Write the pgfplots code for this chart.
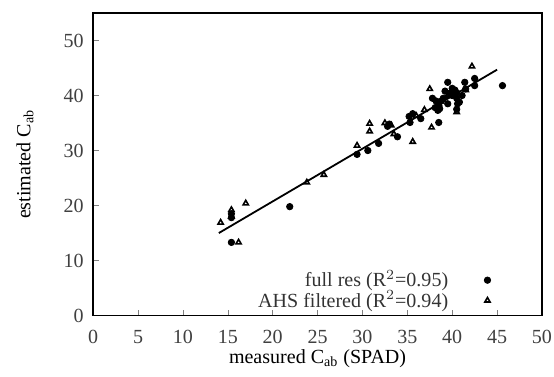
\documentclass[border=0pt]{standalone}
\usepackage{fontspec}
\setmainfont{Liberation Serif}
\usepackage{pgfplots}
\pgfplotsset{compat=1.18}
\begin{document}
\begin{tikzpicture}
\begin{axis}[
  scale only axis,
  width=224pt, height=151pt,
  xmin=0, xmax=50, ymin=0, ymax=55,
  xtick={0,5,...,50}, ytick={0,10,...,50},
  tick align=inside, xtick pos=bottom, ytick pos=left,
  major tick length=3pt,
  /pgf/number format/assume math mode=true,
  tick label style={font=\normalsize, text=black!75},
  xticklabel style={anchor=base, yshift=-14pt},
  yticklabel style={xshift=-1.2pt},
  xlabel={measured C\textsubscript{ab} (SPAD)},
  ylabel={estimated C\textsubscript{ab}},
  label style={text=black!75},
  every axis x label/.style={at={(rel axis cs:0.5,0)}, anchor=center, yshift=-21.5pt},
  every axis y label/.style={at={(rel axis cs:0,0.5)}, rotate=90, anchor=center, yshift=34pt},
  axis line style={line width=0.8pt},
  legend plot pos=right,
  legend cell align=right,
  legend style={draw=none, fill=none, at={(0.90,-0.01)}, anchor=south east,
    font=\normalsize, row sep=-3.5pt, text=black!80,
    /tikz/every odd column/.append style={column sep=16pt}},
]
\addplot[only marks, mark=*, mark size=1.6pt, black] coordinates {
(15.4,18.5)(15.4,17.8)(15.4,13.3)(21.9,19.8)(29.4,29.3)(30.6,30.0)(31.8,31.3)
(32.8,34.4)(33.0,34.8)(33.9,32.5)(35.3,35.1)(35.6,36.7)(35.2,36.2)(36.5,35.8)
(38.5,35.1)(37.8,39.5)(38.1,37.8)(38.4,37.3)(38.2,39.0)(38.5,38.0)(39.0,39.5)
(39.5,42.4)(39.7,40.4)(40.0,40.0)(40.3,41.0)(40.5,40.5)(40.5,39.5)(41.1,40.0)
(40.6,38.5)(40.5,37.5)(41.4,42.4)(42.5,43.1)(42.5,41.8)(45.6,41.8)(38.6,37.6)
(39.5,38.5)(40.0,41.3)(40.8,38.8)(39.2,40.8)(38.8,39.0)(41.5,41.2)
};
\addlegendentry{full res ($\mathrm{R}^2$=0.95)}
\addplot[only marks, mark=triangle, mark size=1.5pt, black, thick] coordinates {
(14.2,16.9)(15.4,19.2)(16.2,13.3)(17.0,20.4)(23.8,24.2)(25.7,25.6)(29.4,30.9)
(30.8,33.5)(30.8,34.9)(32.5,35.0)(33.2,34.6)(35.6,31.6)(36.9,37.4)(37.5,41.2)
(37.7,34.2)(42.2,45.3)(40.5,37.0)(38.5,38.5)(39.5,40.0)(41.5,41.0)(36.0,36.3)
(33.5,33.0)(15.4,18.0)
};
\addlegendentry{AHS filtered ($\mathrm{R}^2$=0.94)}
\addplot[black, line width=0.9pt, forget plot] coordinates {(14,15.0)(45,44.7)};
\coordinate (ll) at (rel axis cs:0,0);
\coordinate (ur) at (rel axis cs:1,1);
\end{axis}
\pgfresetboundingbox
\path ([shift={(-46.5pt,-30.5pt)}]ll) rectangle ([shift={(6pt,6.5pt)}]ur);
\end{tikzpicture}
\end{document}
